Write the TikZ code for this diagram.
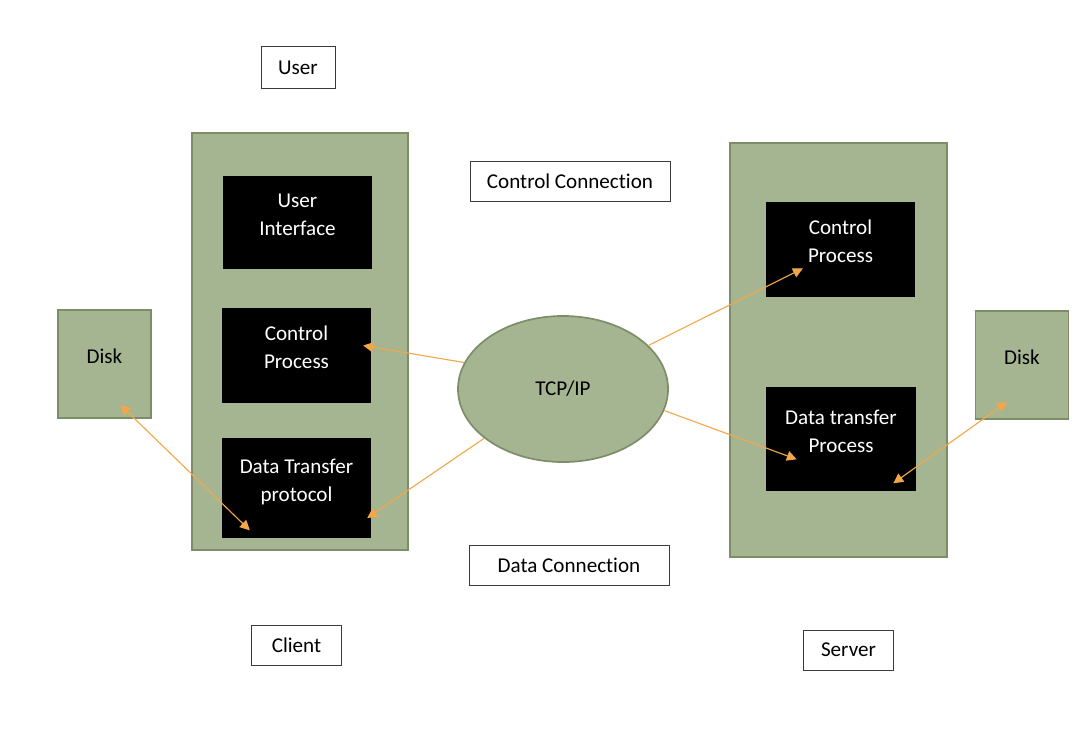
\documentclass[tikz,border=0pt]{standalone}
\usepackage{fontspec}
\setmainfont{Carlito}[RawFeature={-liga}]
\usepackage{xcolor}
\usepackage{tikz}
\usetikzlibrary{arrows.meta,calc,shapes.geometric}
\definecolor{olive}{HTML}{A5B592}
\definecolor{oliveline}{HTML}{7D8D68}
\definecolor{flow}{HTML}{F2A849}
\definecolor{frame}{HTML}{3A3A3A}
\tikzset{
  unit/.style={fill=olive, draw=oliveline, line width=1.2pt},
  proc/.style={fill=black, text=white, align=center, minimum width=3.72cm,
    text depth=0.4cm, font=\fontsize{15}{20}\selectfont},
  disk/.style={unit, minimum width=2.33cm, minimum height=2.7cm,
    text depth=0.4cm, font=\fontsize{15}{20}\selectfont},
  tag/.style={draw=frame, line width=0.6pt, fill=white,
    font=\fontsize{15}{20}\selectfont},
  link/.style={draw=flow, line width=0.8pt, -{Triangle[length=7pt,width=7pt]}},
  link2/.style={link, {Triangle[length=7pt,width=7pt]}-{Triangle[length=7pt,width=7pt]}}
}
\begin{document}
\begin{tikzpicture}[x=0.025cm,y=-0.025cm]
  \useasboundingbox (0,0) rectangle (1076,733);

  % client and server
  \draw[unit] (192,133) rectangle (408,550);
  \draw[unit] (730,143) rectangle (947,557);

  \node[tag, minimum width=1.85cm, minimum height=1.07cm] (user) at (298,67.5) {User};
  \node[tag, minimum width=5cm, minimum height=1cm] (cc) at (570,181) {Control Connection};
  \node[tag, minimum width=5cm, minimum height=0.98cm] (dc) at (569,565.5) {Data Connection};
  \node[tag, minimum width=2.23cm, minimum height=1cm] (client) at (296.5,645) {Client};
  \node[tag, minimum width=2.23cm, minimum height=1cm] (server) at (848.5,650) {Server};

  \node[proc, minimum height=2.33cm] (ui) at (297.5,222.5) {User\\Interface};
  \node[proc, minimum height=2.38cm] (cpc) at (296.5,355.5) {Control\\Process};
  \node[proc, minimum height=2.5cm] (dtp) at (296.5,488) {Data Transfer\\protocol};
  \node[proc, minimum height=2.38cm] (cps) at (840.5,249.5) {Control\\Process};
  \node[proc, minimum height=2.6cm, minimum width=3.75cm] (dts) at (841,439) {Data transfer\\Process};

  \node[disk] (dl) at (104.5,364) {Disk};
  \node[disk] (dr) at (1022,365) {Disk};

  \node[ellipse, unit, minimum width=5.25cm, minimum height=3.65cm,
    font=\fontsize{15}{20}\selectfont] (tcp) at (563,389) {TCP/IP};

  % ends inside the boxes
  \coordinate (e1) at ($(cpc.east)+(-8,-10)$);
  \coordinate (e2) at ($(dtp.east)+(-4,30)$);
  \coordinate (e3) at ($(dl.center)+(16,41)$);
  \coordinate (e4) at ($(dtp.south west)+(28,-8)$);
  \coordinate (e5) at ($(cps.south west)+(37,-29)$);
  \coordinate (e6) at ($(dts.south west)+(31,-32)$);
  \coordinate (e7) at ($(dr.center)+(-15,37)$);
  \coordinate (e8) at ($(dts.south east)+(-23,-8)$);

  \draw[link] (tcp.165) -- (e1);
  \draw[link] (tcp.212) -- (e2);
  \draw[link2] (e3) -- (e4);
  \draw[link] (tcp.27) -- (e5);
  \draw[link] (tcp.-12) -- (e6);
  \draw[link2] (e7) -- (e8);
\end{tikzpicture}
\end{document}
